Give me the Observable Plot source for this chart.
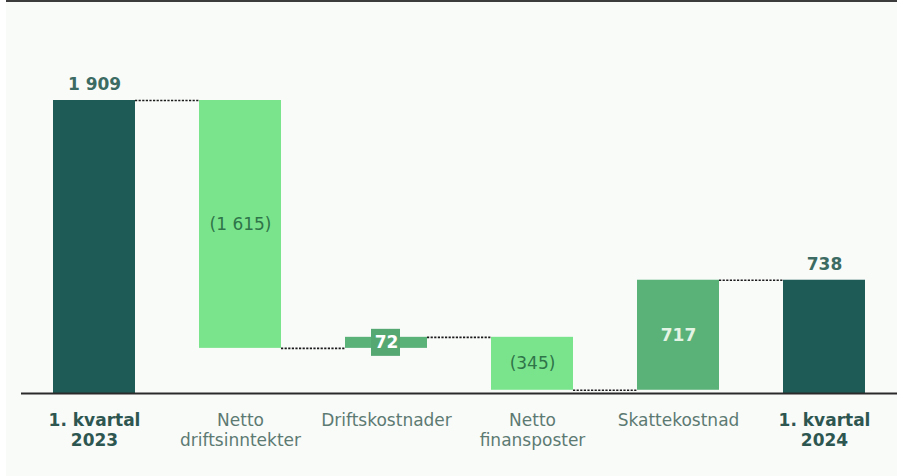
<!DOCTYPE html>
<html>
<head>
<meta charset="utf-8">
<script src="https://cdn.jsdelivr.net/npm/d3@7"></script>
<script src="https://cdn.jsdelivr.net/npm/@observablehq/plot@0.6"></script>
<style>
  html, body { margin: 0; padding: 0; background: #ffffff; }
  #wrap { position: relative; width: 897px; height: 476px; overflow: hidden; }
  #bg { position: absolute; left: 6px; top: 0; right: 0; bottom: 0; background: #f9fbf9; border-top: 2px solid #3c3c3c; }
  #chart { position: absolute; left: 0; top: 0; }
  #chart svg { background: transparent; }
</style>
</head>
<body>
<div id="wrap"><div id="bg"></div><div id="chart"></div></div>
<script>
const categories = ["1. kvartal\n2023", "Netto\ndriftsinntekter", "Driftskostnader", "Netto\nfinansposter", "Skattekostnad", "1. kvartal\n2024"];
const values = [1909, -1615, 72, -345, 717, 738];
const kinds = ["total", "delta", "delta", "delta", "delta", "total"];
const valueLabels = ["1 909", "(1 615)", "72", "(345)", "717", "738"];

const colDark = "#1e5b56";
const colLight = "#7ae48d";
const colMid = "#5bb279";

// build waterfall table
let run = 0;
const rows = categories.map((c, i) => {
  let y1, y2;
  if (kinds[i] === "total") { y1 = 0; y2 = values[i]; run = values[i]; }
  else { y1 = run; y2 = run + values[i]; run = y2; }
  const fill = kinds[i] === "total" ? colDark : (values[i] < 0 ? colLight : colMid);
  return { cat: c, y1, y2, lo: Math.min(y1, y2), hi: Math.max(y1, y2), mid: (y1 + y2) / 2, label: valueLabels[i], kind: kinds[i], value: values[i], fill, i };
});
const connectors = rows.slice(0, -1).map((r, i) => ({ cat: r.cat, level: r.y2 }));

const W = 897, H = 476, step = 146;
const totals = rows.filter(r => r.kind === "total");
const neg = rows.filter(r => r.kind === "delta" && r.value < 0);
const posBig = rows.filter(r => r.kind === "delta" && r.value > 0 && (r.hi - r.lo) > 200);
const posSmall = rows.filter(r => r.kind === "delta" && r.value > 0 && (r.hi - r.lo) <= 200);
const font = "'DejaVu Sans', sans-serif";

const chart = Plot.plot({
  width: W, height: H,
  marginLeft: 21, marginRight: 0, marginTop: 100, marginBottom: 83,
  style: { fontFamily: font, background: "transparent", overflow: "visible" },
  x: { domain: categories, paddingInner: 0.44, paddingOuter: 0.22, axis: null },
  y: { domain: [0, 1909], axis: null },
  marks: [
    Plot.barY(rows, { x: "cat", y1: "y1", y2: "y2", fill: "fill" }),
    // label box for the small bar
    Plot.barY(posSmall, { x: "cat", y1: "y1", y2: "y2", fill: "#56a873", insetLeft: 26, insetRight: 27, insetTop: -8, insetBottom: -8 }),
    Plot.tickY(connectors, { x: "cat", y: "level", dx: step / 2, insetLeft: 9, insetRight: 9, stroke: "#1a1a1a", strokeWidth: 1.6, strokeDasharray: "2.2,1.4" }),
    Plot.ruleY([0], { stroke: "#2a2a2a", strokeWidth: 2 }),
    // totals labels above
    Plot.text(totals, { x: "cat", y: "y2", text: "label", dy: -16, fill: "#3c6b63", fontWeight: "bold", fontSize: 17 }),
    // negative labels inside
    Plot.text(neg, { x: "cat", y: "mid", text: "label", fill: "#2f7449", fontSize: 17 }),
    Plot.text(posBig, { x: "cat", y: "mid", text: "label", fill: "#e4f4e4", fontWeight: "bold", fontSize: 17 }),
    Plot.text(posSmall, { x: "cat", y: "mid", text: "label", fill: "#ffffff", fontWeight: "bold", fontSize: 17 }),
    // category labels
    Plot.text(rows.filter(r => r.kind === "total"), { x: "cat", y: 0, text: "cat", lineAnchor: "top", dy: 18, lineHeight: 1.2, fill: "#2e5650", fontWeight: "bold", fontSize: 17 }),
    Plot.text(rows.filter(r => r.kind !== "total"), { x: "cat", y: 0, text: "cat", lineAnchor: "top", dy: 18, lineHeight: 1.2, fill: "#5d7a72", fontSize: 17 })
  ]
});
document.getElementById("chart").appendChild(chart);
</script>
</body>
</html>
